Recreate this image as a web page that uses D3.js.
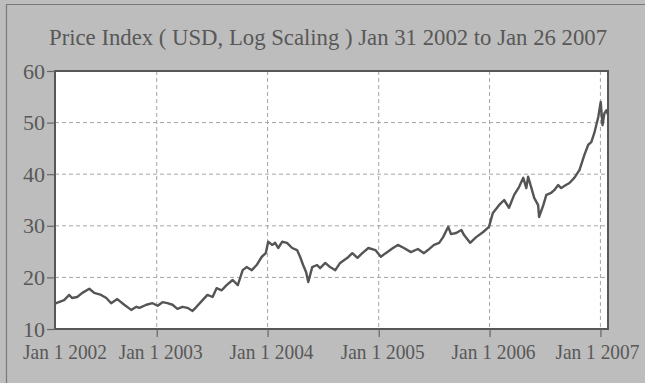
<!DOCTYPE html>
<html>
<head>
<meta charset="utf-8">
<script src="https://cdn.jsdelivr.net/npm/d3@7"></script>
<style>
  body { margin: 0; background: #bdbdbd; }
  svg { display: block; }
</style>
</head>
<body>
<svg id="chart"></svg>
<script>
const WIDTH = 645;
const HEIGHT = 383;

const title = "Price Index ( USD, Log Scaling ) Jan 31 2002 to Jan 26 2007";

// price index
const dates = [
  "2002-01-31", "2002-02-04", "2002-03-02", "2002-03-19", "2002-03-28", "2002-04-14",
  "2002-05-01", "2002-05-24", "2002-06-09", "2002-07-02", "2002-07-19", "2002-08-04",
  "2002-08-24", "2002-09-16", "2002-10-09", "2002-10-26", "2002-11-05", "2002-11-28",
  "2002-12-18", "2003-01-04", "2003-01-20", "2003-02-05", "2003-02-22", "2003-03-10",
  "2003-03-27", "2003-04-12", "2003-04-29", "2003-05-12", "2003-06-01", "2003-06-17",
  "2003-07-04", "2003-07-17", "2003-08-03", "2003-08-19", "2003-09-08", "2003-09-25",
  "2003-10-11", "2003-10-24", "2003-11-10", "2003-11-26", "2003-12-13", "2003-12-26",
  "2004-01-03", "2004-01-16", "2004-01-26", "2004-02-05", "2004-02-18", "2004-03-05",
  "2004-03-22", "2004-04-07", "2004-04-17", "2004-04-27", "2004-05-07", "2004-05-14",
  "2004-05-27", "2004-06-12", "2004-06-22", "2004-07-09", "2004-07-25", "2004-08-11",
  "2004-08-27", "2004-09-20", "2004-10-06", "2004-10-23", "2004-11-08", "2004-11-28",
  "2004-12-21", "2005-01-08", "2005-01-24", "2005-02-17", "2005-03-05", "2005-03-25",
  "2005-04-17", "2005-05-10", "2005-05-30", "2005-06-12", "2005-07-02", "2005-07-19",
  "2005-08-01", "2005-08-18", "2005-08-27", "2005-09-13", "2005-09-30", "2005-10-09",
  "2005-10-29", "2005-11-18", "2005-12-11", "2005-12-30", "2006-01-12", "2006-02-01",
  "2006-02-18", "2006-03-06", "2006-03-23", "2006-04-08", "2006-04-22", "2006-05-02",
  "2006-05-08", "2006-05-18", "2006-05-28", "2006-06-10", "2006-06-13", "2006-06-27",
  "2006-07-07", "2006-07-23", "2006-08-02", "2006-08-15", "2006-08-25", "2006-09-04",
  "2006-09-21", "2006-10-07", "2006-10-24", "2006-11-09", "2006-11-22", "2006-12-02",
  "2006-12-12", "2006-12-25", "2007-01-02", "2007-01-08", "2007-01-14", "2007-01-21",
  "2007-01-26"
];
const prices = [
  15.0, 15.0, 15.6, 16.6, 16.0, 16.2,
  17.0, 17.8, 17.0, 16.6, 16.0, 15.0,
  15.8, 14.7, 13.7, 14.3, 14.1, 14.7,
  15.0, 14.5, 15.2, 15.0, 14.7, 13.9,
  14.3, 14.1, 13.5, 14.3, 15.6, 16.6,
  16.2, 17.9, 17.5, 18.5, 19.5, 18.5,
  21.4, 22.0, 21.4, 22.4, 24.0, 24.7,
  26.9, 26.3, 26.7, 25.7, 26.9, 26.7,
  25.7, 25.3, 24.0, 22.4, 21.0, 19.1,
  22.0, 22.4, 21.8, 22.8, 22.0, 21.4,
  22.8, 23.8, 24.7, 23.8, 24.7, 25.7,
  25.3, 24.0, 24.7, 25.7, 26.3, 25.7,
  24.9, 25.5, 24.7, 25.3, 26.3, 26.7,
  27.8, 29.8, 28.4, 28.6, 29.2, 28.2,
  26.7, 27.8, 28.8, 29.8, 32.5, 34.0,
  35.0, 33.5, 36.0, 37.5, 39.3, 37.3,
  39.5, 37.5, 35.4, 34.0, 31.7, 34.0,
  36.0, 36.4, 36.9, 37.9, 37.3, 37.7,
  38.3, 39.3, 40.8, 43.7, 45.7, 46.2,
  48.0, 51.1, 54.0, 49.5, 51.8, 52.4,
  51.5
];

const yTicks = [10, 20, 30, 40, 50, 60];
const xTickDates = ["2002-01-01", "2003-01-01", "2004-01-01", "2005-01-01", "2006-01-01", "2007-01-01"];
const xTickLabels = ["Jan 1 2002", "Jan 1 2003", "Jan 1 2004", "Jan 1 2005", "Jan 1 2006", "Jan 1 2007"];

const parse = d3.timeParse("%Y-%m-%d");
const data = dates.map((d, i) => ({ date: parse(d), value: prices[i] }));

const margin = { top: 71, right: 37, bottom: 54, left: 55 };
const innerW = WIDTH - margin.left - margin.right;
const innerH = HEIGHT - margin.top - margin.bottom;

const textColor = "#585858";
const fontFamily = "'Liberation Serif', 'DejaVu Serif', serif";

const svg = d3.select("#chart")
  .attr("width", WIDTH)
  .attr("height", HEIGHT);

// page background and scanned-page edge
svg.append("rect")
  .attr("width", WIDTH)
  .attr("height", HEIGHT)
  .attr("fill", "#bdbdbd");
svg.append("path")
  .attr("d", `M6.5,${HEIGHT} V4.5 H${WIDTH}`)
  .attr("fill", "none")
  .attr("stroke", "#7a7a7a")
  .attr("stroke-width", 1.2);

svg.append("text")
  .attr("x", 49)
  .attr("y", 45)
  .attr("textLength", 558)
  .attr("lengthAdjust", "spacingAndGlyphs")
  .attr("font-family", fontFamily)
  .attr("font-size", 24)
  .attr("fill", textColor)
  .text(title);

const x = d3.scaleTime()
  .domain([parse("2002-01-31"), parse("2007-01-26")])
  .range([0, innerW]);

const y = d3.scaleLinear()
  .domain([10, 60])
  .range([innerH, 0]);

const g = svg.append("g")
  .attr("transform", `translate(${margin.left},${margin.top})`);

g.append("rect")
  .attr("width", innerW)
  .attr("height", innerH)
  .attr("fill", "#ffffff");

// horizontal grid
g.append("g")
  .selectAll("line")
  .data(yTicks.filter(v => v > 10 && v < 60))
  .join("line")
  .attr("x1", 0)
  .attr("x2", innerW)
  .attr("y1", d => y(d))
  .attr("y2", d => y(d))
  .attr("stroke", "#a5a5a5")
  .attr("stroke-width", 1)
  .attr("stroke-dasharray", "4,3");

// vertical grid
const inDomain = xTickDates.map(parse).filter(d => d >= x.domain()[0] && d <= x.domain()[1]);
g.append("g")
  .selectAll("line")
  .data(inDomain)
  .join("line")
  .attr("x1", d => x(d))
  .attr("x2", d => x(d))
  .attr("y1", 0)
  .attr("y2", innerH)
  .attr("stroke", "#a5a5a5")
  .attr("stroke-width", 1)
  .attr("stroke-dasharray", "4,3");

const line = d3.line()
  .x(d => x(d.date))
  .y(d => y(d.value));

g.append("path")
  .datum(data)
  .attr("d", line)
  .attr("fill", "none")
  .attr("stroke", "#555555")
  .attr("stroke-width", 2.4)
  .attr("stroke-linejoin", "round");

g.append("rect")
  .attr("width", innerW)
  .attr("height", innerH)
  .attr("fill", "none")
  .attr("stroke", "#575757")
  .attr("stroke-width", 2);

// y axis
const yAxis = g.append("g")
  .call(d3.axisLeft(y).tickValues(yTicks).tickSize(8).tickPadding(2));
yAxis.select(".domain").remove();
yAxis.selectAll(".tick line").attr("stroke", "#666").attr("stroke-width", 1.2);
yAxis.selectAll(".tick text")
  .attr("font-family", fontFamily)
  .attr("font-size", 22)
  .attr("fill", textColor);

// x axis
const xAxis = g.append("g")
  .attr("transform", `translate(0,${innerH})`)
  .call(d3.axisBottom(x).tickValues(inDomain).tickSize(8).tickFormat(""));
xAxis.select(".domain").remove();
xAxis.selectAll(".tick line").attr("stroke", "#666").attr("stroke-width", 1.2);

g.append("g")
  .selectAll("text")
  .data(xTickDates)
  .join("text")
  .attr("x", (d, i) => Math.max(x(parse(d)) + (i === xTickLabels.length - 1 ? -3 : 4), 10))
  .attr("y", innerH + 30)
  .attr("text-anchor", "middle")
  .attr("textLength", 84)
  .attr("lengthAdjust", "spacingAndGlyphs")
  .attr("font-family", fontFamily)
  .attr("font-size", 21)
  .attr("fill", textColor)
  .text((d, i) => xTickLabels[i]);
</script>
</body>
</html>
